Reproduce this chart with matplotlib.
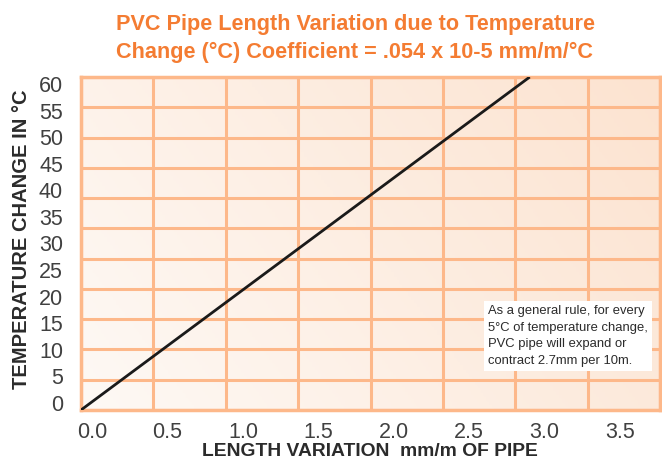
import numpy as np
import matplotlib
matplotlib.use("Agg")
import matplotlib.pyplot as plt
from matplotlib.colors import LinearSegmentedColormap

# ---- data ----
length_variation = [0.0, 3.1]      # mm/m
temperature_change = [0, 60]       # °C
x_tick_labels = ["0.0", "0.5", "1.0", "1.5", "2.0", "2.5", "3.0", "3.5"]
y_tick_labels = ["0", "5", "10", "15", "20", "25", "30", "35", "40", "45", "50", "55", "60"]
title = "PVC Pipe Length Variation due to Temperature\nChange (°C) Coefficient = .054 x 10-5 mm/m/°C"
xlabel = "LENGTH VARIATION  mm/m OF PIPE"
ylabel = "TEMPERATURE CHANGE IN °C"
note = ("As a general rule, for every\n5°C of temperature change,\n"
        "PVC pipe will expand or\ncontract 2.7mm per 10m.")

ORANGE = "#F47C32"
GRID = "#FDB88A"
TXT = "#2b2b2b"

W, H = 662, 462
fig = plt.figure(figsize=(W / 100, H / 100), dpi=100)
L, R, T, B = 81, 660, 77, 410
ax = fig.add_axes([L / W, 1 - B / H, (R - L) / W, (B - T) / H])

# gradient background
n = 200
gx, gy = np.meshgrid(np.linspace(0, 1, n), np.linspace(0, 1, n))
g = (gx * 0.7 + gy * 0.3)
cmap = LinearSegmentedColormap.from_list("bg", ["#FEF9F5", "#FCE3D0"])
ax.imshow(g, extent=[0, 4, 0, 60], origin="lower", aspect="auto", cmap=cmap, zorder=0)

ax.set_xlim(0, 4)
ax.set_ylim(0, 60)
ax.set_xticks(np.arange(0, 4.01, 0.5))
ax.set_yticks(np.linspace(0, 60, 12))
ax.grid(True, color=GRID, lw=2.2, zorder=1)
ax.tick_params(length=0, labelbottom=False, labelleft=False)
for s in ax.spines.values():
    s.set_color(GRID)
    s.set_linewidth(2.5)
ax.set_axisbelow(False)

ax.plot(length_variation, temperature_change, color="#1a1a1a", lw=2, zorder=3,
        solid_capstyle="butt")

# tick labels on twin axes (label spacing differs from the grid)
tick_font = dict(family=["Liberation Sans", "DejaVu Sans"])
axx = ax.twiny()
axx.set_xlim((L - 92) / 150.9, (R - 92) / 150.9)
axx.xaxis.set_ticks_position("bottom")
axx.set_xticks(np.arange(len(x_tick_labels)) * 0.5)
axx.set_xticklabels(x_tick_labels, color="#404040", fontsize=15.5, **tick_font)
axx.tick_params(length=0, pad=9)
for s in axx.spines.values():
    s.set_visible(False)

axy = ax.twinx()
axy.set_ylim((403 - B) / 5.317, (403 - T) / 5.317)
axy.yaxis.set_ticks_position("left")
axy.set_yticks(np.arange(len(y_tick_labels)) * 5)
axy.set_yticklabels(y_tick_labels, color="#404040", fontsize=15.5, **tick_font)
axy.tick_params(length=0, pad=13)
for s in axy.spines.values():
    s.set_visible(False)

fig.text(355 / W, 1 - 38.5 / H, title, ha="center", va="center", color=ORANGE,
         fontsize=15.6, fontweight="bold", family=["Liberation Sans", "DejaVu Sans"],
         linespacing=1.4)
fig.text(370 / W, 1 - 452 / H, xlabel, ha="center", va="center", color=TXT,
         fontsize=13.9, fontweight="bold", family=["Liberation Sans", "DejaVu Sans"])
fig.text(22 / W, 1 - 239 / H, ylabel, ha="center", va="center", color=TXT,
         rotation=90, fontsize=14.5, fontweight="bold",
         family=["Liberation Sans", "DejaVu Sans"])

fig.text(488 / W, 1 - 336 / H, note, ha="left", va="center", color=TXT,
         fontsize=9.4, family=["Liberation Sans Narrow", "Liberation Sans", "DejaVu Sans"],
         linespacing=1.5, zorder=5,
         bbox=dict(facecolor="white", edgecolor="none", boxstyle="square,pad=0.3"))

fig.savefig("out.png", dpi=100)
